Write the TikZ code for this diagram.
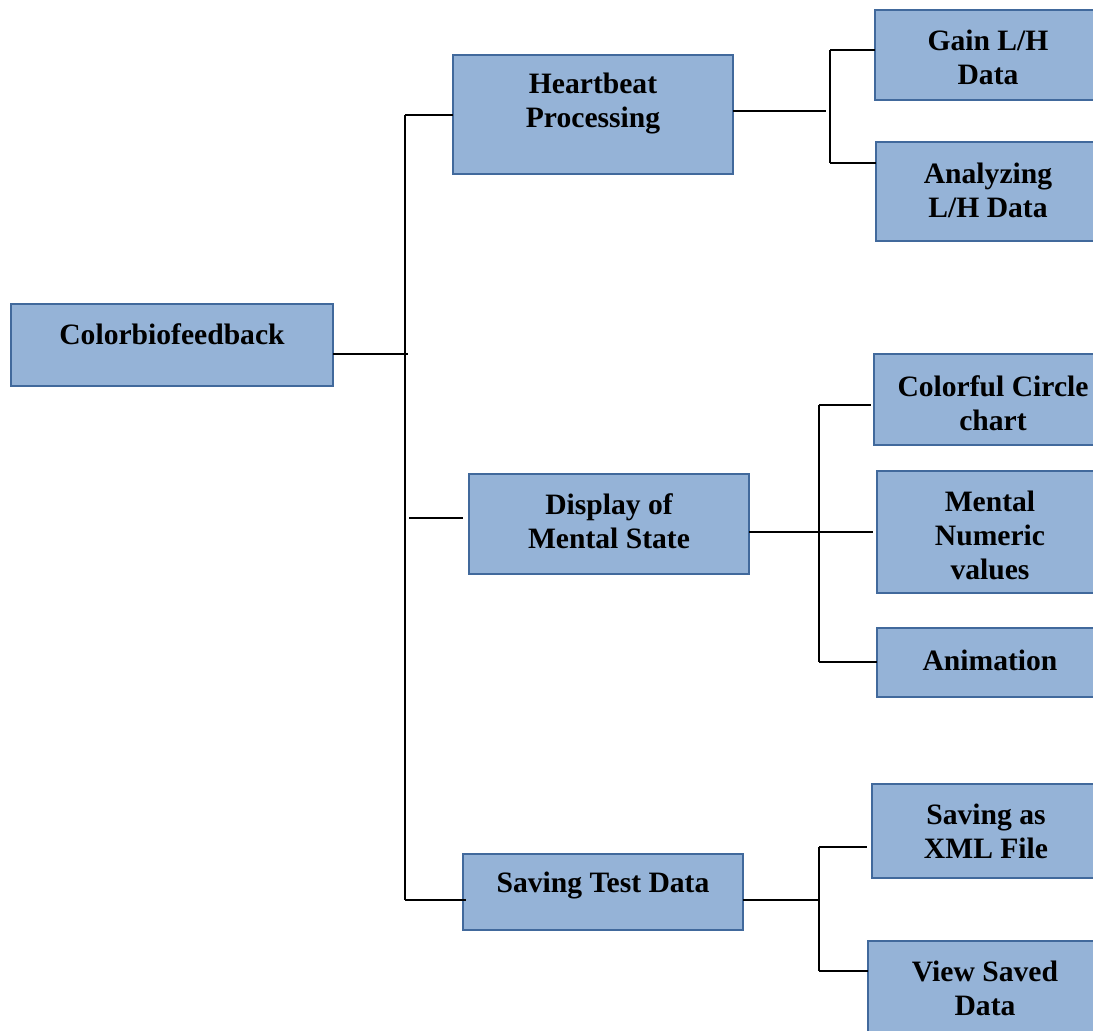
\documentclass[tikz,border=0pt]{standalone}
\usepackage{fontspec}
\setmainfont{Liberation Serif}
\definecolor{boxfill}{HTML}{95B3D7}
\definecolor{boxline}{HTML}{41699C}
\begin{document}
\begin{tikzpicture}[x=1pt,y=-1pt,
  box/.style={draw=boxline,fill=boxfill,line width=1.6pt,inner sep=0pt,outer sep=0pt},
  lbl/.style={font=\fontsize{29.6}{34}\selectfont\bfseries,align=center,inner sep=0pt},
  link/.style={line width=2.5pt,black}]
\useasboundingbox (0,0) rectangle (1093,1031);
\clip (0,0) rectangle (1093,1031);

% boxes (centre, width, height)
\node[box,minimum width=322pt,minimum height=82pt]  (root) at (172,345)   {};
\node[box,minimum width=280pt,minimum height=119pt] (hb)   at (593,114.5) {};
\node[box,minimum width=223pt,minimum height=90pt]  (gain) at (986.5,55)  {};
\node[box,minimum width=222pt,minimum height=99pt]  (anal) at (987,191.5) {};
\node[box,minimum width=280pt,minimum height=100pt] (disp) at (609,524)   {};
\node[box,minimum width=224pt,minimum height=91pt]  (circ) at (986,399.5) {};
\node[box,minimum width=221pt,minimum height=122pt] (ment) at (987.5,532) {};
\node[box,minimum width=221pt,minimum height=69pt]  (anim) at (987.5,662.5) {};
\node[box,minimum width=280pt,minimum height=76pt]  (save) at (603,892)   {};
\node[box,minimum width=226pt,minimum height=94pt]  (xml)  at (985,831)   {};
\node[box,minimum width=230pt,minimum height=99pt]  (view) at (983,990.5) {};

% labels
\node[lbl] (root-t) at (172,334) {Colorbiofeedback};
\node[lbl] (hb-t)   at (593,103) {Heartbeat\\Processing};
\node[lbl] (gain-t) at (988,57)  {Gain L/H\\Data};
\node[lbl] (anal-t) at (988,190) {Analyzing\\L/H Data};
\node[lbl] (disp-t) at (609,521) {Display of\\Mental State};
\node[lbl] (circ-t) at (993,403) {Colorful Circle\\chart};
\node[lbl] (ment-t) at (990,535) {Mental\\Numeric\\values};
\node[lbl] (anim-t) at (990,660) {Animation};
\node[lbl] (save-t) at (603,885) {Saving Test Data};
\node[lbl] (xml-t)  at (986,831) {Saving as\\XML File};
\node[lbl] (view-t) at (985,988) {View Saved\\Data};

% junction points
\coordinate (r-top) at (405,115);
\coordinate (r-bot) at (405,900);
\coordinate (r-in)  at (408,354);
\coordinate (r-mid) at (409,518);
\coordinate (d-in)  at (463,518);
\coordinate (s-in)  at (466,900);

\coordinate (h-out) at (826,111);
\coordinate (h-top) at (830,50);
\coordinate (h-bot) at (830,163);

\coordinate (dd-top) at (819,405);
\coordinate (dd-bot) at (819,662);
\coordinate (m-in)   at (873,532);
\coordinate (c-in)   at (871,405);

\coordinate (s-top) at (819,847);
\coordinate (s-bot) at (819,971);
\coordinate (x-in)  at (867,847);

% root level
\draw[link] (root.east |- r-in) -- (r-in);
\draw[link] (r-top) -- (r-bot);
\draw[link] (r-top) -- (hb.west |- r-top);
\draw[link] (r-mid) -- (d-in);
\draw[link] (r-bot) -- (s-in);

% heartbeat branch
\draw[link] (hb.east |- h-out) -- (h-out);
\draw[link] (h-top) -- (h-bot);
\draw[link] (h-top) -- (gain.west |- h-top);
\draw[link] (h-bot) -- (anal.west |- h-bot);

% display branch
\draw[link] (disp.east |- m-in) -- (m-in);
\draw[link] (dd-top) -- (dd-bot);
\draw[link] (dd-top) -- (c-in);
\draw[link] (dd-bot) -- (anim.west |- dd-bot);

% saving branch
\draw[link] (save.east |- r-bot) -- (r-bot -| s-top);
\draw[link] (s-top) -- (s-bot);
\draw[link] (s-top) -- (x-in);
\draw[link] (s-bot) -- (view.west |- s-bot);
\end{tikzpicture}
\end{document}
